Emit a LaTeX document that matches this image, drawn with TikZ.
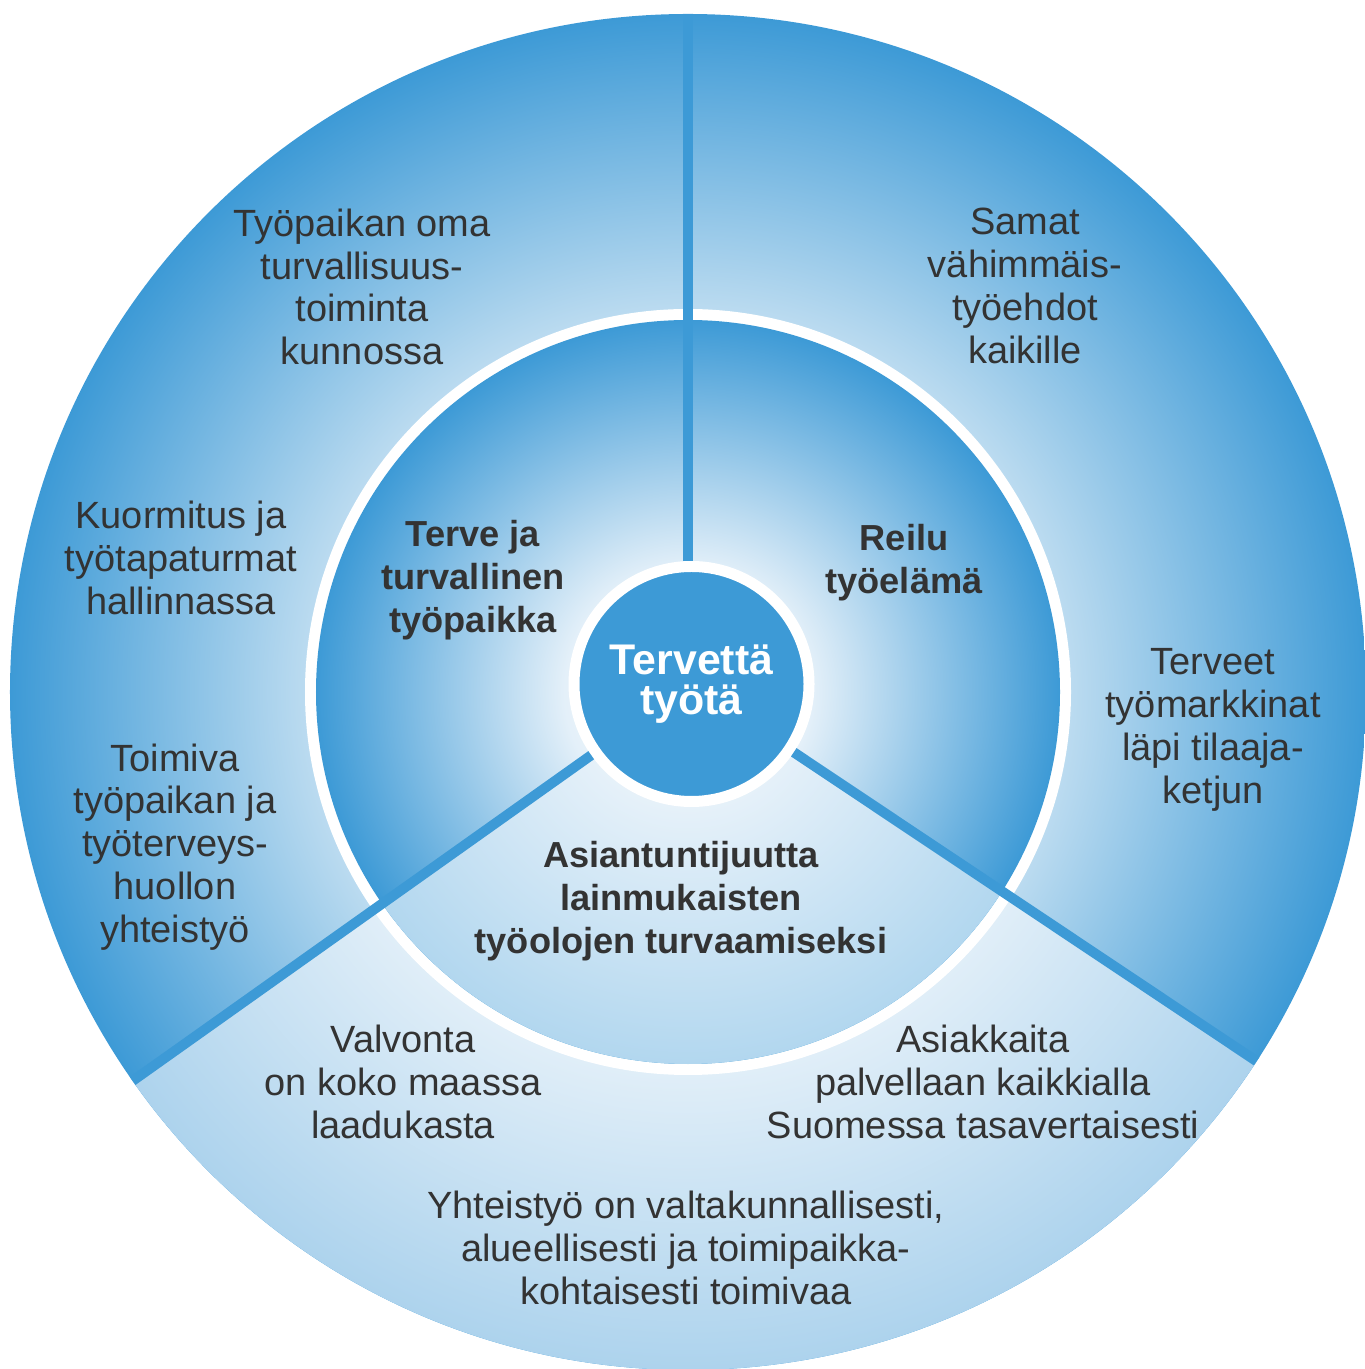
\documentclass[tikz,border=0pt]{standalone}
\usepackage{fontspec}
\setmainfont{Liberation Sans}
\definecolor{ringdark}{HTML}{3D9AD6}
\definecolor{ringlight}{HTML}{BBDBF0}
\definecolor{botlight}{HTML}{E0EEF8}
\definecolor{botdark}{HTML}{ADD3ED}
\definecolor{disklight}{HTML}{E4F0F9}
\definecolor{diskedge}{HTML}{B2D7EF}
\definecolor{ink}{HTML}{333333}
\pgfdeclareradialshading{ringtop}{\pgfpointorigin}{color(0bp)=(ringlight); color(14.1bp)=(ringlight); color(25bp)=(ringdark); color(50bp)=(ringdark)}
\pgfdeclareradialshading{ringbot}{\pgfpointorigin}{color(0bp)=(botlight); color(14.1bp)=(botlight); color(25bp)=(botdark); color(50bp)=(botdark)}
\pgfdeclareradialshading{disktop}{\pgfpointorigin}{color(0bp)=(white); color(8.3bp)=(disklight); color(25bp)=(ringdark); color(50bp)=(ringdark)}
\pgfdeclareradialshading{diskbot}{\pgfpointorigin}{color(0bp)=(white); color(8.3bp)=(disklight); color(25bp)=(diskedge); color(50bp)=(diskedge)}

\begin{document}
\begin{tikzpicture}[
    lbl/.style={text=ink, align=center, font=\fontsize{10.8}{12.2}\selectfont},
    hd/.style={lbl, font=\bfseries\fontsize{10.3}{12.2}\selectfont},
    spoke/.style={draw=ringdark, line width=1mm},
    hub/.style={circle, fill=ringdark, draw=white, line width=1.1mm, minimum size=23.5mm,
        inner sep=0pt, text=white, align=center, font=\bfseries\fontsize{12.2}{11.4}\selectfont}]
    \useasboundingbox (-6.88,-6.77) rectangle (6.76,6.92);
    \coordinate (c) at (0.035,0.08);

    \shade[shading=ringtop] (0,0) circle (6.78);
    \begin{scope}
        \clip (c) -- (215:6.8) arc[start angle=215, end angle=327, radius=6.8] -- cycle;
        \shade[shading=ringbot] (0,0) circle (6.78);
    \end{scope}
    \fill[white] (0,0) circle (3.83);
    \shade[shading=disktop] (0,0) circle (3.72);
    \begin{scope}
        \clip (c) -- (215:3.8) arc[start angle=215, end angle=327, radius=3.8] -- cycle;
        \shade[shading=diskbot] (0,0) circle (3.72);
    \end{scope}

    \node[hub] (H) at (c) {Tervettä\\työtä};
    \coordinate (N) at (90:6.78);
    \coordinate (SW) at (215:6.78);
    \coordinate (SE) at (327:6.78);
    \draw[spoke] (N) -- (N |- H.north);
    \draw[spoke] (H) -- (SW);
    \draw[spoke] (H) -- (SE);

    \node[hd] (terve) at (-2.15,1.12) {Terve ja\\turvallinen\\työpaikka};
    \node[hd] (reilu) at (2.16,1.29) {Reilu\\työelämä};
    \node[hd] (asiant) at (-0.07,-2.09) {Asiantuntijuutta\\lainmukaisten\\työolojen turvaamiseksi};

    \node[lbl] (oma) at (-3.26,4.05) {Työpaikan oma\\turvallisuus-\\toiminta\\kunnossa};
    \node[lbl] (kuorm) at (-5.07,1.34) {Kuormitus ja\\työtapaturmat\\hallinnassa};
    \node[lbl] (toim) at (-5.13,-1.55) {Toimiva\\työpaikan ja\\työterveys-\\huollon\\yhteistyö};
    \node[lbl] (samat) at (3.37,4.06) {Samat\\vähimmäis-\\työehdot\\kaikille};
    \node[lbl] (terv) at (5.25,-0.38) {Terveet\\työmarkkinat\\läpi tilaaja-\\ketjun};
    \node[lbl] (valv) at (-2.85,-3.90) {Valvonta\\on koko maassa\\laadukasta};
    \node[lbl] (asiak) at (2.95,-3.90) {Asiakkaita\\palvellaan kaikkialla\\Suomessa tasavertaisesti};
    \node[lbl] (yht) at (-0.02,-5.56) {Yhteistyö on valtakunnallisesti,\\alueellisesti ja toimipaikka-\\kohtaisesti toimivaa};
\end{tikzpicture}
\end{document}
